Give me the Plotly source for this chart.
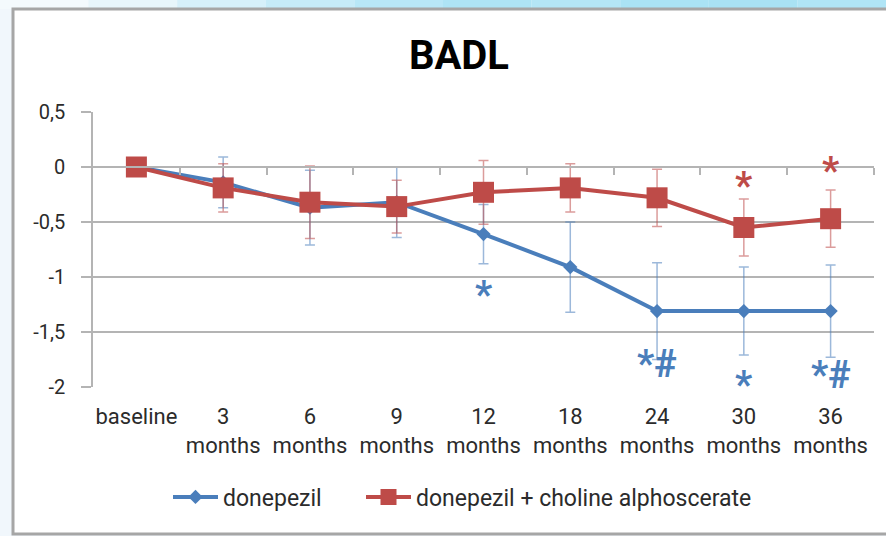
import plotly.graph_objects as go

# ---- data -------------------------------------------------------------
periods = ["baseline", "3", "6", "9", "12", "18", "24", "30", "36"]
period_unit = ["", "months", "months", "months", "months", "months", "months", "months", "months"]

donepezil = [0, -0.14, -0.37, -0.32, -0.61, -0.91, -1.31, -1.31, -1.31]
donepezil_err = [0, 0.23, 0.34, 0.32, 0.27, 0.41, 0.44, 0.40, 0.42]

combo = [0, -0.19, -0.32, -0.36, -0.23, -0.19, -0.28, -0.55, -0.47]
combo_err = [0, 0.22, 0.33, 0.24, 0.29, 0.22, 0.26, 0.26, 0.26]

# significance marks: (category index, y value, text)
blue_marks = [(4, -1.10, "*"), (6, -1.73, "*#"), (7, -1.92, "*"), (8, -1.83, "*#")]
red_marks = [(7, -0.11, "*"), (8, 0.03, "*")]

y_ticks = [0.5, 0, -0.5, -1, -1.5, -2]
y_ticktext = ["0,5", "0", "-0,5", "-1", "-1,5", "-2"]

# ---- style ------------------------------------------------------------
BLUE = "#4a7ebb"
RED = "#be4b48"
GRID = "#b4b4b4"
FONT = "Roboto"
TXT = "#2b2b2b"

W, H = 886, 536
L, R, T, B = 93, 12, 112, 149
plot_w, plot_h = W - L - R, H - T - B


def px_x(p):
    return (p - L) / plot_w


def px_y(p):
    return (H - B - p) / plot_h


x_idx = list(range(len(periods)))
x_labels = [p if not u else f"{p}<br>{u}" for p, u in zip(periods, period_unit)]
y_min, y_max = min(y_ticks), max(y_ticks)

fig = go.Figure()

fig.add_trace(go.Scatter(
    x=x_idx, y=donepezil, name="donepezil", mode="lines+markers",
    line=dict(color=BLUE, width=4),
    marker=dict(symbol="diamond", size=11, color=BLUE),
    error_y=dict(type="data", array=donepezil_err, visible=True,
                 color="rgba(74,126,187,0.55)", thickness=1.5, width=5),
    legend="legend",
))
fig.add_trace(go.Scatter(
    x=x_idx, y=combo, name="donepezil + choline alphoscerate", mode="lines+markers",
    line=dict(color=RED, width=4),
    marker=dict(symbol="square", size=21, color=RED),
    error_y=dict(type="data", array=combo_err, visible=True,
                 color="rgba(190,75,72,0.55)", thickness=1.5, width=5),
    legend="legend2",
))
# helper trace so the zero-line axis with category ticks is rendered
fig.add_trace(go.Scatter(x=[x_idx[0]], y=[0], xaxis="x2", yaxis="y",
                         mode="markers", marker=dict(opacity=0),
                         showlegend=False, hoverinfo="skip"))

for marks, col in ((blue_marks, BLUE), (red_marks, RED)):
    for i, yv, txt in marks:
        fig.add_annotation(x=i, y=yv, text=txt, showarrow=False,
                           font=dict(family=FONT, size=38, color=col, weight="bold"),
                           yanchor="middle", yshift=-7)

# background: light strip at the top, framed white chart box
strip_cols = ["#f4fafd", "#e8f6fb", "#d6f0fa", "#c6ebf8", "#b8e7f7",
              "#aee4f5", "#b4e6f6", "#aae3f5", "#a9e2f4", "#b0e5f6"]
n = len(strip_cols)
shapes = []
for k, c in enumerate(strip_cols):
    shapes.append(dict(type="rect", xref="paper", yref="paper", layer="below",
                       x0=px_x(k * W / n), x1=px_x((k + 1) * W / n),
                       y0=px_y(9), y1=px_y(0), fillcolor=c, line=dict(width=0)))
shapes.append(dict(type="rect", xref="paper", yref="paper", layer="below",
                   x0=px_x(13), x1=px_x(W + 5), y0=px_y(534), y1=px_y(9),
                   fillcolor="white", line=dict(color="#a6a6a6", width=3)))

legend_style = dict(orientation="h", yanchor="middle", y=px_y(497), xanchor="left",
                    font=dict(family=FONT, size=23, color=TXT),
                    bgcolor="rgba(0,0,0,0)", itemwidth=45)

fig.update_layout(
    width=W, height=H,
    margin=dict(l=L, r=R, t=T, b=B),
    paper_bgcolor="#f1f7fc",
    plot_bgcolor="white",
    shapes=shapes,
    font=dict(family=FONT, size=22, color=TXT),
    title=dict(text="<b>BADL</b>", x=px_x(459), xref="paper", xanchor="center",
               y=1 - 55 / H, yanchor="middle",
               font=dict(family=FONT, size=40, color="black")),
    showlegend=True,
    legend=dict(legend_style, x=px_x(168)),
    legend2=dict(legend_style, x=px_x(361)),
    xaxis=dict(range=[-0.5, len(periods) - 0.5], tickvals=x_idx, ticktext=x_labels,
               showgrid=False, zeroline=False, showline=False, ticks="",
               ticklabelstandoff=14,
               tickfont=dict(family=FONT, size=22, color=TXT)),
    xaxis2=dict(overlaying="x", anchor="free",
                position=(0 - y_min) / (y_max - y_min),
                range=[-0.5, len(periods) - 0.5],
                tickvals=[i + 0.5 for i in x_idx], showticklabels=False,
                ticks="outside", ticklen=7, tickcolor=GRID, tickwidth=1.5,
                showline=True, linecolor=GRID, linewidth=1.5,
                showgrid=False, zeroline=False),
    yaxis=dict(range=[y_min, y_max], tickvals=y_ticks, ticktext=y_ticktext,
               showgrid=True, gridcolor=GRID, gridwidth=1.5,
               zeroline=False, showline=True, linecolor=GRID, linewidth=1.5,
               ticks="outside", ticklen=10, tickcolor=GRID, tickwidth=1.5,
               ticklabelstandoff=12,
               tickfont=dict(family=FONT, size=20, color=TXT)),
)

fig.write_html("out.html")
